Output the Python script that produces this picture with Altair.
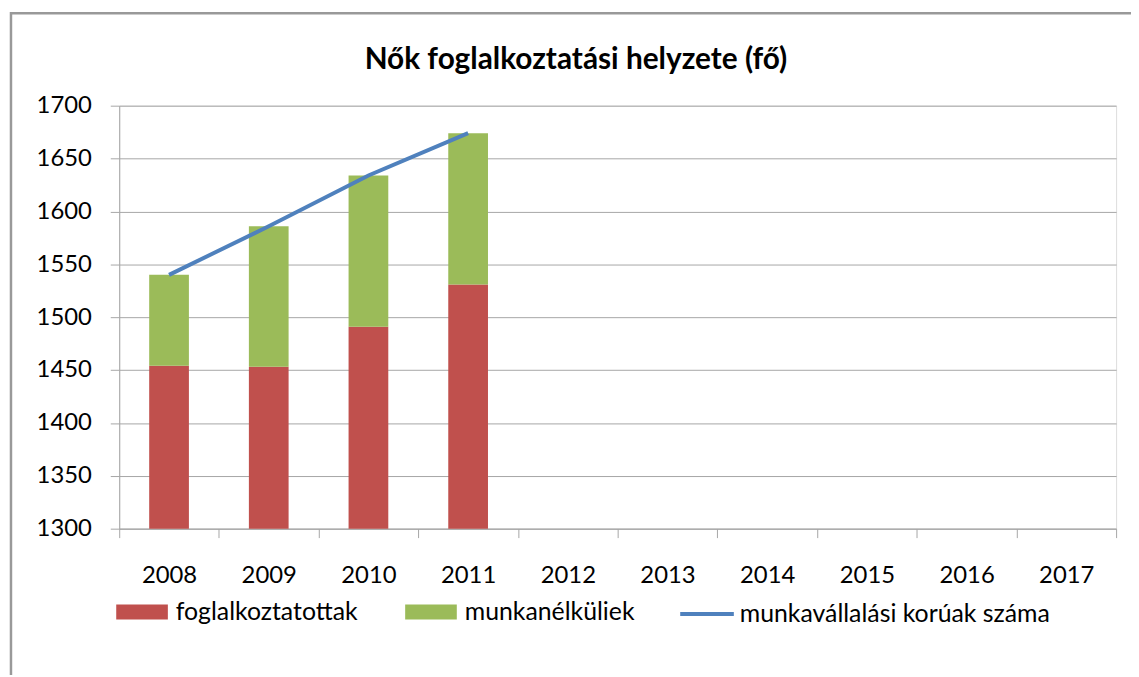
import altair as alt
import pandas as pd

years = ["2008", "2009", "2010", "2011", "2012", "2013", "2014", "2015", "2016", "2017"]
data_years = ["2008", "2009", "2010", "2011"]
foglalkoztatottak = [1454, 1453, 1491, 1531]
munkanelkuliek = [86, 133, 143, 143]
munkavallalasi_koruak = [1540, 1586, 1634, 1674]

S1 = "foglalkoztatottak"
S2 = "munkanélküliek"
S3 = "munkavállalási korúak száma"

RED = "#C0504D"
GREEN = "#9BBB59"
BLUE = "#4F81BD"
GRID = "#A6A6A6"
FONT = "Lato"

df = pd.DataFrame({
    "year": data_years,
    "fogl": foglalkoztatottak,
    "munk": munkanelkuliek,
    "kor": munkavallalasi_koruak,
})

x = alt.X("year:O", scale=alt.Scale(domain=years, paddingInner=0, paddingOuter=0),
          axis=alt.Axis(title=None, labelAngle=0, tickBand="extent", domainColor=GRID,
                        tickColor=GRID, tickSize=9, labelPadding=26, labelFontSize=24,
                        labelColor="#000000", labelFont=FONT, grid=False))
yscale = alt.Scale(domain=[1300, 1700], nice=False, zero=False)
yaxis = alt.Axis(title=None, values=list(range(1300, 1701, 50)), format="d", grid=True,
                 gridColor=GRID, gridWidth=1, domainColor=GRID, tickColor=GRID, tickSize=9,
                 labelPadding=19, labelFontSize=24, labelColor="#000000", labelFont=FONT)

rect_path = "M-1,-0.29H1V0.29H-1Z"

def leg(x0, y0, stype, ssize, sw, loff):
    return alt.Legend(title=None, orient="none", legendX=x0, legendY=y0,
                      symbolType=stype, symbolSize=ssize, symbolStrokeWidth=sw,
                      labelFontSize=25, labelFont=FONT, labelOffset=loff, labelLimit=500,
                      labelColor="#000000", padding=0)

red = alt.Chart(df).mark_bar(size=40, clip=True).encode(
    x=x,
    y=alt.Y("fogl:Q", scale=yscale, axis=yaxis),
    color=alt.Color("s:N", scale=alt.Scale(domain=[S1], range=[RED]),
                    legend=leg(-3, 484, rect_path, 2704, 0, 8)),
).transform_calculate(s="'" + S1 + "'")

green = alt.Chart(df).mark_bar(size=40, clip=True).encode(
    x=x,
    y=alt.Y("fogl:Q", scale=yscale),
    y2=alt.Y2("top:Q"),
    fill=alt.Fill("s:N", scale=alt.Scale(domain=[S2], range=[GREEN]),
                  legend=leg(288, 484, rect_path, 2704, 0, 8)),
).transform_calculate(s="'" + S2 + "'", top="datum.fogl + datum.munk")

line = alt.Chart(df).mark_line(strokeWidth=4).encode(
    x=x,
    y=alt.Y("kor:Q", scale=yscale),
    stroke=alt.Stroke("s:N", scale=alt.Scale(domain=[S3], range=[BLUE]),
                      legend=leg(563, 483, "stroke", 2916, 4, 4)),
).transform_calculate(s="'" + S3 + "'")

border = alt.Chart(pd.DataFrame({"a": [0]})).mark_rect(
    fill=None, stroke="#999999", strokeWidth=2.5
).encode(x=alt.value(-109), x2=alt.value(1040), y=alt.value(-93), y2=alt.value(600))

chart = alt.layer(border, red, green, line).properties(
    width=1004, height=426,
    padding={"left": 112, "top": 96, "right": 15, "bottom": 145},
    autosize=alt.AutoSizeParams(type="none"),
    title=alt.TitleParams("Nők foglalkoztatási helyzete (fő)", fontSize=30, font=FONT,
                          fontWeight="bold", color="#000000", anchor="middle", dx=-42,
                          offset=0, dy=63),
).configure_view(stroke=None).configure(background="white")

chart.save("out.html", embed_options={"renderer": "svg", "actions": False})
